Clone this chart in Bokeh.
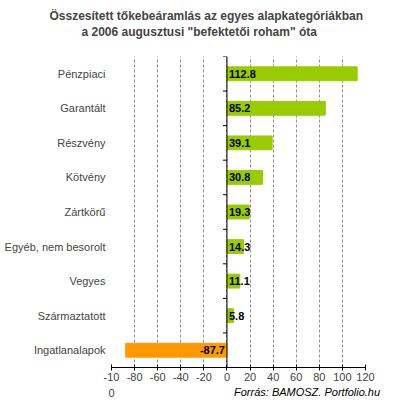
from math import pi
from bokeh.plotting import figure
from bokeh.layouts import column
from bokeh.models import LinearAxis, FixedTicker, ColumnDataSource, Range1d, Title, Span, Div
from bokeh.core.properties import value
from bokeh.embed import file_html
from bokeh.resources import INLINE

categories = ["Pénzpiaci", "Garantált", "Részvény", "Kötvény", "Zártkörű",
              "Egyéb, nem besorolt", "Vegyes", "Származtatott", "Ingatlanalapok"]
values = [112.8, 85.2, 39.1, 30.8, 19.3, 14.3, 11.1, 5.8, -87.7]
x_ticks = [-100, -80, -60, -40, -20, 0, 20, 40, 60, 80, 100, 120]
x_tick_labels = ["-10\n0", "-80", "-60", "-40", "-20", "0", "20", "40", "60", "80", "100", "120"]
title_lines = ["Összesített tőkebeáramlás az egyes alapkategóriákban",
               'a 2006 augusztusi "befektetői roham" óta']
source_text = "Forrás: BAMOSZ. Portfolio.hu"

n = len(categories)
ypos = [n - 1 - i + 0.5 for i in range(n)]
bounds = list(range(n + 1))
colors = ["#99CC00" if v >= 0 else "#FF9900" for v in values]
labels = [f"{v:.1f}" for v in values]

src = ColumnDataSource(dict(y=ypos, v=values, c=colors))
pos = ColumnDataSource(dict(y=[y for y, v in zip(ypos, values) if v >= 0],
                            lab=[l for l, v in zip(labels, values) if v >= 0]))
neg = ColumnDataSource(dict(y=[y for y, v in zip(ypos, values) if v < 0],
                            lab=[l for l, v in zip(labels, values) if v < 0]))

FONT = "Liberation Sans"
p = figure(width=395, height=413, output_backend="svg", toolbar_location=None,
           x_range=Range1d(x_ticks[0], x_ticks[-1]), y_range=Range1d(0, n),
           min_border_left=111, min_border_right=30, min_border_top=56,
           min_border_bottom=46, x_axis_location=None, y_axis_location=None)
p.outline_line_color = None
p.background_fill_color = "white"

# titles: spacer nearest the frame, then the second line, p.title (first line) outermost
p.add_layout(Title(text="\u00a0", align="left", vertical_align="bottom",
                   text_font=FONT, text_font_size="12px", standoff=2), "above")
p.add_layout(Title(text=title_lines[1], align="left", offset=-30, vertical_align="bottom",
                   text_font=FONT, text_font_size="12px", text_font_style="bold",
                   standoff=0), "above")
p.title.text = title_lines[0]
p.title.align = "left"
p.title.offset = -62
p.title.vertical_align = "bottom"
p.title.text_font = FONT
p.title.text_font_size = "12px"
p.title.text_font_style = "bold"
p.title.standoff = 0

p.hbar(y="y", right="v", left=0, height=0.4, color="c", source=src)
p.text(x=0, y="y", text="lab", source=pos, x_offset=2, text_align="left",
       text_baseline="middle", text_font=value(FONT), text_font_size="11px",
       text_font_style="bold", text_color="black")
p.text(x=0, y="y", text="lab", source=neg, x_offset=-2, text_align="right",
       text_baseline="middle", text_font=value(FONT), text_font_size="11px",
       text_font_style="bold", text_color="black")

# zero line with category boundary ticks pointing left
p.add_layout(Span(location=0, dimension="height", line_color="black", line_width=1))
p.ray(x=0, y=bounds, length=4, length_units="screen", angle=pi, line_color="black")

# x axis
xa = LinearAxis(ticker=FixedTicker(ticks=x_ticks))
xa.major_label_overrides = {t: l for t, l in zip(x_ticks, x_tick_labels)}
xa.major_tick_in = 3
xa.major_tick_out = 3
xa.minor_tick_line_color = None
xa.axis_line_color = "black"
xa.major_tick_line_color = "black"
xa.major_label_text_font = FONT
xa.major_label_text_font_size = "11px"
xa.major_label_text_line_height = 1.4
xa.major_label_standoff = 0
p.add_layout(xa, "below")

# category labels
ya = LinearAxis(ticker=FixedTicker(ticks=ypos))
ya.major_label_overrides = {y: c for y, c in zip(ypos, categories)}
ya.axis_line_color = None
ya.major_tick_line_color = None
ya.major_tick_in = 0
ya.major_tick_out = 0
ya.minor_tick_line_color = None
ya.minor_tick_in = 0
ya.minor_tick_out = 0
ya.major_label_text_font = FONT
ya.major_label_text_font_size = "11px"
ya.major_label_standoff = 6
p.add_layout(ya, "left")

p.xgrid.ticker = FixedTicker(ticks=x_ticks)
p.xgrid.grid_line_color = "#909090"
p.xgrid.grid_line_dash = "3 2"
p.ygrid.grid_line_color = None

note = Div(text=source_text, width=160, height=14, margin=(-28, 0, 0, 234),
           styles={"font-family": FONT, "font-size": "11px", "font-style": "italic",
                   "color": "black", "white-space": "nowrap"})

layout = column(p, note, spacing=0)
open("out.html", "w").write(file_html(layout, INLINE))
